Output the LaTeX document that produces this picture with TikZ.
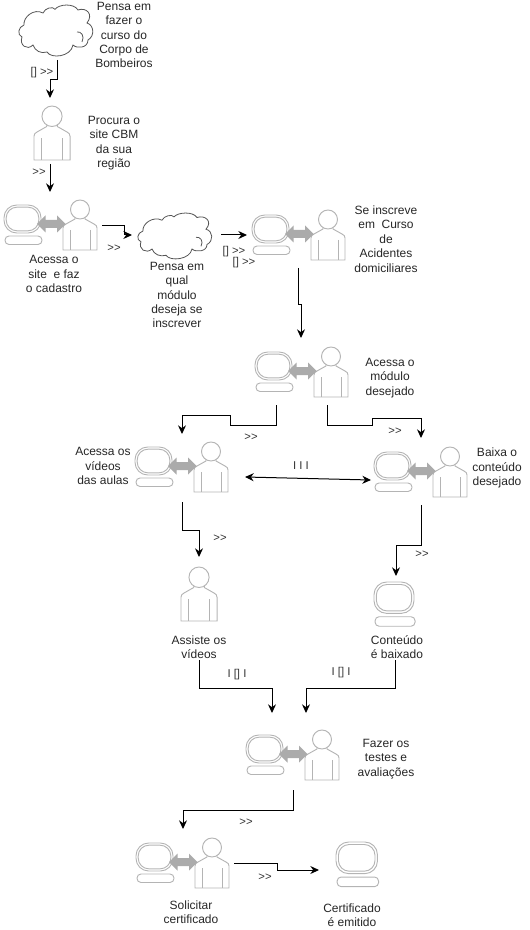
\documentclass[tikz,border=0pt]{standalone}
\usepackage{fontspec}
\setmainfont{Liberation Sans}
\usetikzlibrary{arrows.meta}

\definecolor{iconline}{HTML}{B4B4B4}
\definecolor{iconfill}{HTML}{ABABAB}
\definecolor{cloudline}{HTML}{555555}

\tikzset{
	label text/.style = {font = \fontsize{9pt}{10.8pt}\selectfont, align = center, inner sep = 0pt, text = black!85},
	tag text/.style = {font = \fontsize{8.5pt}{9pt}\selectfont, inner sep = 0pt, text = black!80},
	link/.style = {line width = 0.75pt, -{Stealth[length = 6.5pt, width = 6pt]}},
	thinking/.pic = {
		\draw [cloudline, line width = 0.6pt] (4,20) .. controls (3,12) and (14,3) .. (23,8) .. controls (25,3) and (33,1) .. (35,4.3) .. controls (39,-1) and (54,-2) .. (58,5) .. controls (66,2) and (74,9) .. (67,18) .. controls (74,20) and (75,31) .. (68,35) .. controls (68,43) and (57,44) .. (53,40) .. controls (51,52) and (31,54) .. (27,47) .. controls (21,49) and (15,46) .. (13,40) .. controls (7,46) and (-1,40) .. (2,32) .. controls (-3,30) and (-2,22) .. (4,20);
		\draw [cloudline, line width = 0.6pt] (57,27) .. controls (61,26) and (65,31) .. (62,37);
	},
	person/.pic = {
		\draw [iconline, line width = 0.7pt] (0,50) -- (0,28) .. controls (0,26) and (1,25) .. (3,24) -- (12,19) -- (12,17) -- (22,17) -- (22,19) -- (31,24) .. controls (33,25) and (34,26) .. (34,28) -- (34,50) -- cycle;
		\draw [iconline, line width = 0.7pt, fill = white] (17,9.5) circle [radius = 9.5];
		\draw [iconline, line width = 0.7pt] (7,30) -- (7,50);
		\draw [iconline, line width = 0.7pt] (27,30) -- (27,50);
	},
	terminal/.pic = {
		\draw [iconline, line width = 0.7pt, rounded corners = 9.5pt] (0,0) rectangle (37,28);
		\draw [iconline, line width = 0.7pt, rounded corners = 8pt] (2.2,2.2) rectangle (34.8,25.8);
		\draw [iconline, line width = 0.7pt, rounded corners = 3pt] (1,31) rectangle (38,39.5);
	},
	station/.pic = {
		\pic at (59,-5) {person};
		\pic at (0,0) {terminal};
		\fill [iconfill] (33,19) -- (41.5,10.5) -- (41.5,15) -- (53,15) -- (53,10.5) -- (61.5,19) -- (53,27.5) -- (53,23) -- (41.5,23) -- (41.5,27.5) -- cycle;
	}
}

\begin{document}
\begin{tikzpicture}[x = 0.75pt, y = -0.75pt]
	\useasboundingbox (0,0) rectangle (529,930);

	% icons
	\pic at (20,5) {thinking};
	\pic at (34,106) [xscale = 1.06, yscale = 1.08] {person};
	\pic at (4,205) {station};
	\pic at (139,213) [yscale = 0.9] {thinking};
	\pic at (252,215) {station};
	\pic at (255,352) {station};
	\pic at (135,447) {station};
	\pic at (374,452) {station};
	\pic at (181,567) [xscale = 1.06, yscale = 1.08] {person};
	\pic at (374,582) [xscale = 1.08, yscale = 1.12] {terminal};
	\pic at (246,735) {station};
	\pic at (136,843) {station};
	\pic at (336,842) [xscale = 1.12, yscale = 1.13] {terminal};

	% texts
	\node (ideatext) [label text] at (124,35) {Pensa em\\fazer o\\curso do\\Corpo de\\Bombeiros};
	\node (searchtext) [label text] at (114,143) {Procura o\\site CBM\\da sua\\região};
	\node (signuptext) [label text] at (54,274) {Acessa o\\site\ \ e faz\\o cadastro};
	\node (choicetext) [label text] at (177,295) {Pensa em\\qual\\módulo\\deseja se\\inscrever};
	\node (enroltext) [label text] at (386,239) {Se inscreve\\em\ \ Curso\\de\\Acidentes\\domiciliares};
	\node (moduletext) [label text] at (390,378) {Acessa o\\módulo\\desejado};
	\node (videotext) [label text] at (103,466) {Acessa os\\vídeos\\das aulas};
	\node (downtext) [label text] at (497,468) {Baixa o\\conteúdo\\desejado};
	\node (watchtext) [label text] at (199,647) {Assiste os\\vídeos};
	\node (savedtext) [label text] at (397,647) {Conteúdo\\é baixado};
	\node (testtext) [label text] at (386,759) {Fazer os\\testes e\\avaliações};
	\node (asktext) [label text] at (191,912) {Solicitar\\certificado};
	\node (issuedtext) [label text] at (352,915) {Certificado\\é emitido};

	% tags
	\node (tagA) [tag text] at (42,73) {[] >{}>};
	\node (tagB) [tag text] at (39,172) {>{}>};
	\node (tagC) [tag text] at (114,248) {>{}>};
	\node (tagD) [tag text] at (234,252) {[] >{}>};
	\node (tagE) [tag text] at (244,263) {[] >{}>};
	\node (tagF) [tag text] at (251,437) {>{}>};
	\node (tagG) [tag text] at (395,431) {>{}>};
	\node (tagH) [tag text] at (301,466) {I I I};
	\node (tagI) [tag text] at (220,538) {>{}>};
	\node (tagJ) [tag text] at (422,554) {>{}>};
	\node (tagK) [tag text] at (237,675) {I [] I};
	\node (tagL) [tag text] at (341,673) {I [] I};
	\node (tagM) [tag text] at (246,822) {>{}>};
	\node (tagN) [tag text] at (265,877) {>{}>};

	% connector ends
	\coordinate (ideaout) at (57,60);
	\coordinate (searchin) at (50,98);
	\coordinate (searchout) at (50,164);
	\coordinate (signupin) at (50,192);
	\coordinate (signupout) at (102,226);
	\coordinate (choicein) at (132,235);
	\coordinate (choiceout) at (221,235);
	\coordinate (enrolin) at (247,235);
	\coordinate (enrolout) at (298,268);
	\coordinate (modulein) at (301,338);
	\coordinate (moduleleft) at (276,405);
	\coordinate (moduleright) at (327,405);
	\coordinate (videoin) at (182,434);
	\coordinate (downin) at (421,438);
	\coordinate (videoside) at (245,477);
	\coordinate (downside) at (371,480);
	\coordinate (videoout) at (182,502);
	\coordinate (watchin) at (199,557);
	\coordinate (downout) at (421,505);
	\coordinate (savedin) at (396,576);
	\coordinate (watchout) at (199,660);
	\coordinate (testleft) at (272,713);
	\coordinate (savedout) at (395,660);
	\coordinate (testright) at (306,713);
	\coordinate (testout) at (293,790);
	\coordinate (askin) at (183,829);
	\coordinate (askout) at (234,863);
	\coordinate (issuedin) at (319,870);

	% connectors
	\begin{scope}[link]
		\draw (ideaout) -- (57,80) -- (50,80) -- (searchin);
		\draw (searchout) -- (signupin);
		\draw (signupout) -- (124,226) -- (124,235) -- (choicein);
		\draw (choiceout) -- (enrolin);
		\draw (enrolout) -- (298,304) -- (301,304) -- (modulein);
		\draw (moduleleft) -- (276,425) -- (230,425) -- (230,415) -- (182,415) -- (videoin);
		\draw (moduleright) -- (327,425) -- (372,425) -- (372,418) -- (421,418) -- (downin);
		\draw [{Stealth[length = 6.5pt, width = 6pt]}-{Stealth[length = 6.5pt, width = 6pt]}] (videoside) -- (downside);
		\draw (videoout) -- (182,530) -- (199,530) -- (watchin);
		\draw (downout) -- (421,545) -- (396,545) -- (savedin);
		\draw (watchout) -- (199,688) -- (272,688) -- (testleft);
		\draw (savedout) -- (395,688) -- (306,688) -- (testright);
		\draw (testout) -- (293,810) -- (183,810) -- (askin);
		\draw (askout) -- (277,863) -- (277,870) -- (issuedin);
	\end{scope}
\end{tikzpicture}
\end{document}
